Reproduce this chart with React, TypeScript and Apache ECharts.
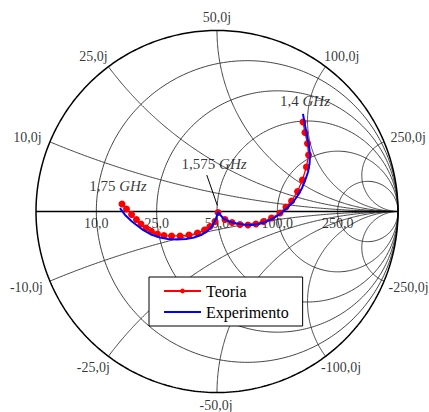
import React, { useEffect, useRef } from 'react';
import * as echarts from 'echarts';

// Reference impedance (ohms) and Smith-chart grid ticks (ohms)
const Z0 = 50;
const resistanceTicks = [10, 25, 50, 100, 250];
const reactanceTicks = [10, 25, 50, 100, 250, -10, -25, -50, -100, -250];

const teoriaRe = [-0.525, -0.5, -0.472, -0.445, -0.42, -0.392, -0.362, -0.329, -0.293, -0.251, -0.204, -0.155, -0.108, -0.069, -0.039, -0.011, 0.006, 0.044, 0.083, 0.127, 0.171, 0.215, 0.257, 0.301, 0.348, 0.381, 0.412, 0.445, 0.472, 0.494, 0.506, 0.5, 0.486, 0.475];
const teoriaIm = [0.041, 0.014, -0.017, -0.044, -0.069, -0.091, -0.11, -0.124, -0.133, -0.135, -0.135, -0.13, -0.119, -0.102, -0.083, -0.055, -0.006, -0.044, -0.061, -0.072, -0.075, -0.069, -0.055, -0.036, -0.008, 0.025, 0.058, 0.11, 0.174, 0.246, 0.312, 0.376, 0.436, 0.494];
const experimentoRe = [-0.536, -0.508, -0.47, -0.409, -0.365, -0.315, -0.271, -0.221, -0.171, -0.127, -0.088, -0.055, -0.028, -0.006, 0.006, 0.017, 0.036, 0.066, 0.108, 0.149, 0.188, 0.232, 0.276, 0.315, 0.348, 0.387, 0.423, 0.448, 0.47, 0.486, 0.503, 0.511, 0.514, 0.508, 0.5, 0.489, 0.475];
const experimentoIm = [0.019, -0.019, -0.055, -0.102, -0.127, -0.144, -0.152, -0.155, -0.152, -0.144, -0.13, -0.11, -0.083, -0.041, -0.003, -0.017, -0.039, -0.055, -0.066, -0.072, -0.075, -0.069, -0.055, -0.036, -0.014, 0.019, 0.055, 0.091, 0.13, 0.169, 0.218, 0.262, 0.312, 0.362, 0.406, 0.461, 0.539];

// Frequency annotations: label and index of the Teoria point they mark
const freqLabels = ['1,75', '1,575', '1,4'];
const freqIndex = [0, 16, 33];

const seriesNames = ['Teoria', 'Experimento'];

// ---- layout (pixels) ----
const R_PX = 181;
const CX = 217;
const CY = 211.5;
const FONT = 'Liberation Serif, Times New Roman, serif';
const reactOffsetPos: Record<number, [number, number]> = { 10: [-22.5, -4.4], 25: [-15, -10.7], 50: [0, -13], 100: [16, -10.7], 250: [24, -4.4] };
const reactOffsetNeg: Record<number, [number, number]> = { 10: [-23.5, 6], 25: [-15, 10.7], 50: [-1, 12.5], 100: [15.5, 10.7], 250: [24.5, 6] };
const freqLabelOffset: [number, number][] = [[-4, -18], [-4, -48.5], [2, -21.5]];
const arrowFrom: [number, number] = [-11.3, -37.5];
const arrowTo: [number, number] = [-0.7, -7];

const fmt = (v: number) => v.toFixed(1).replace('.', ',');

function gamma(r: number, x: number): [number, number] {
  const d = (r + 1) * (r + 1) + x * x;
  return [(r * r - 1 + x * x) / d, (2 * x) / d];
}

function resistanceCircle(r: number): number[][] {
  const c = r / (1 + r);
  const rad = 1 / (1 + r);
  const pts: number[][] = [];
  for (let i = 0; i <= 360; i++) {
    const a = (i * Math.PI) / 180;
    pts.push([c + rad * Math.cos(a), rad * Math.sin(a)]);
  }
  return pts;
}

function reactanceArc(x: number): number[][] {
  const ax = Math.abs(x);
  const [ex, ey] = gamma(0, ax);
  const cy = 1 / ax;
  const rad = 1 / ax;
  let a0 = Math.atan2(ey - cy, ex - 1);
  if (a0 < 0) a0 += 2 * Math.PI;
  const a1 = 1.5 * Math.PI;
  const n = 240;
  const pts: number[][] = [];
  for (let i = 0; i <= n; i++) {
    const a = a0 + ((a1 - a0) * i) / n;
    const px = 1 + rad * Math.cos(a);
    const py = cy + rad * Math.sin(a);
    pts.push([px, x < 0 ? -py : py]);
  }
  return pts;
}

function gridLine(data: number[][], color: string, width: number, z = 1) {
  return {
    type: 'line',
    data,
    showSymbol: false,
    symbol: 'none',
    silent: true,
    clip: false,
    z,
    lineStyle: { color, width },
    emphasis: { disabled: true },
    tooltip: { show: false },
  };
}

function buildOption() {
  const series: any[] = [];
  resistanceTicks.forEach((r) => series.push(gridLine(resistanceCircle(r / Z0), '#2e2e2e', 0.9)));
  reactanceTicks.forEach((x) => series.push(gridLine(reactanceArc(x / Z0), '#2e2e2e', 0.9)));
  series.push(gridLine(resistanceCircle(0), '#000', 1.5, 2));
  series.push(gridLine([[-1, 0], [1, 0]], '#000', 1.3, 2));

  // grid tick labels
  const labelData: any[] = [];
  resistanceTicks.forEach((r) => {
    const g = gamma(r / Z0, 0);
    labelData.push({ value: [g[0], 0], name: fmt(r), label: { offset: [0, 12] } });
  });
  reactanceTicks.forEach((x) => {
    const g = gamma(0, x / Z0);
    const off = x > 0 ? reactOffsetPos[x] : reactOffsetNeg[-x];
    labelData.push({ value: g, name: fmt(x) + 'j', label: { offset: off } });
  });
  series.push({
    type: 'scatter',
    data: labelData,
    symbolSize: 1,
    clip: false,
    silent: true,
    z: 3,
    itemStyle: { color: 'rgba(0,0,0,0)' },
    label: {
      show: true,
      position: 'inside',
      formatter: (p: any) => p.name,
      color: '#000',
      fontFamily: FONT,
      fontSize: 14,
    },
  });

  const teoria = teoriaRe.map((v, i) => [v, teoriaIm[i]]);
  const experimento = experimentoRe.map((v, i) => [v, experimentoIm[i]]);

  series.push({
    name: seriesNames[0],
    type: 'line',
    data: teoria,
    z: 4,
    symbol: 'circle',
    symbolSize: 7,
    showSymbol: true,
    itemStyle: { color: '#ff0000' },
    lineStyle: { color: '#ff0000', width: 1.3 },
  });
  series.push({
    name: seriesNames[1],
    type: 'line',
    data: experimento,
    z: 5,
    symbol: 'none',
    showSymbol: false,
    itemStyle: { color: '#0000ff' },
    lineStyle: { color: '#0000ff', width: 2 },
  });

  // frequency annotations
  const cusp = teoria[freqIndex[1]];
  const toG = (base: number[], off: [number, number]) => [base[0] + off[0] / R_PX, base[1] - off[1] / R_PX];
  series.push({
    type: 'scatter',
    data: freqIndex.map((idx, i) => ({
      value: teoria[idx],
      name: freqLabels[i],
      label: { offset: freqLabelOffset[i] },
    })),
    symbolSize: 1,
    clip: false,
    silent: true,
    z: 6,
    itemStyle: { color: 'rgba(0,0,0,0)' },
    label: {
      show: true,
      position: 'inside',
      formatter: (p: any) => `{n|${p.name} }{i|GHz}`,
      rich: {
        n: { fontFamily: FONT, fontSize: 15, color: '#000' },
        i: { fontFamily: FONT, fontSize: 15, color: '#000', fontStyle: 'italic' },
      },
    },
    markLine: {
      silent: true,
      symbol: ['none', 'arrow'],
      symbolSize: [0, 9],
      label: { show: false },
      lineStyle: { color: '#000', width: 1, type: 'solid' },
      data: [[{ coord: toG(cusp, arrowFrom) }, { coord: toG(cusp, arrowTo) }]],
    },
  });

  return {
    animation: false,
    backgroundColor: '#fff',
    grid: { left: CX - R_PX, top: CY - R_PX, width: 2 * R_PX, height: 2 * R_PX },
    xAxis: { type: 'value', min: -1, max: 1, show: false },
    yAxis: { type: 'value', min: -1, max: 1, show: false },
    legend: {
      data: [
        { name: seriesNames[0] },
        { name: seriesNames[1], itemStyle: { color: 'rgba(0,0,0,0)', borderWidth: 0, opacity: 0 } },
      ],
      orient: 'vertical',
      left: 149,
      top: 277,
      itemWidth: 37,
      itemHeight: 6,
      itemGap: 3,
      padding: [5, 14, 5, 14],
      backgroundColor: '#fff',
      borderColor: '#000',
      borderWidth: 1,
      borderRadius: 0,
      z: 10,
      textStyle: { fontFamily: FONT, fontSize: 16, color: '#000', lineHeight: 18 },
    },
    series,
  };
}

export default function App() {
  const ref = useRef<HTMLDivElement>(null);
  useEffect(() => {
    if (!ref.current) return;
    const chart = echarts.init(ref.current, null, { renderer: 'svg' });
    chart.setOption(buildOption() as any);
    return () => chart.dispose();
  }, []);
  return (
    <div
      ref={ref}
      style={{ position: 'fixed', left: 0, top: 0, width: 429, height: 412, background: '#fff' }}
    />
  );
}
